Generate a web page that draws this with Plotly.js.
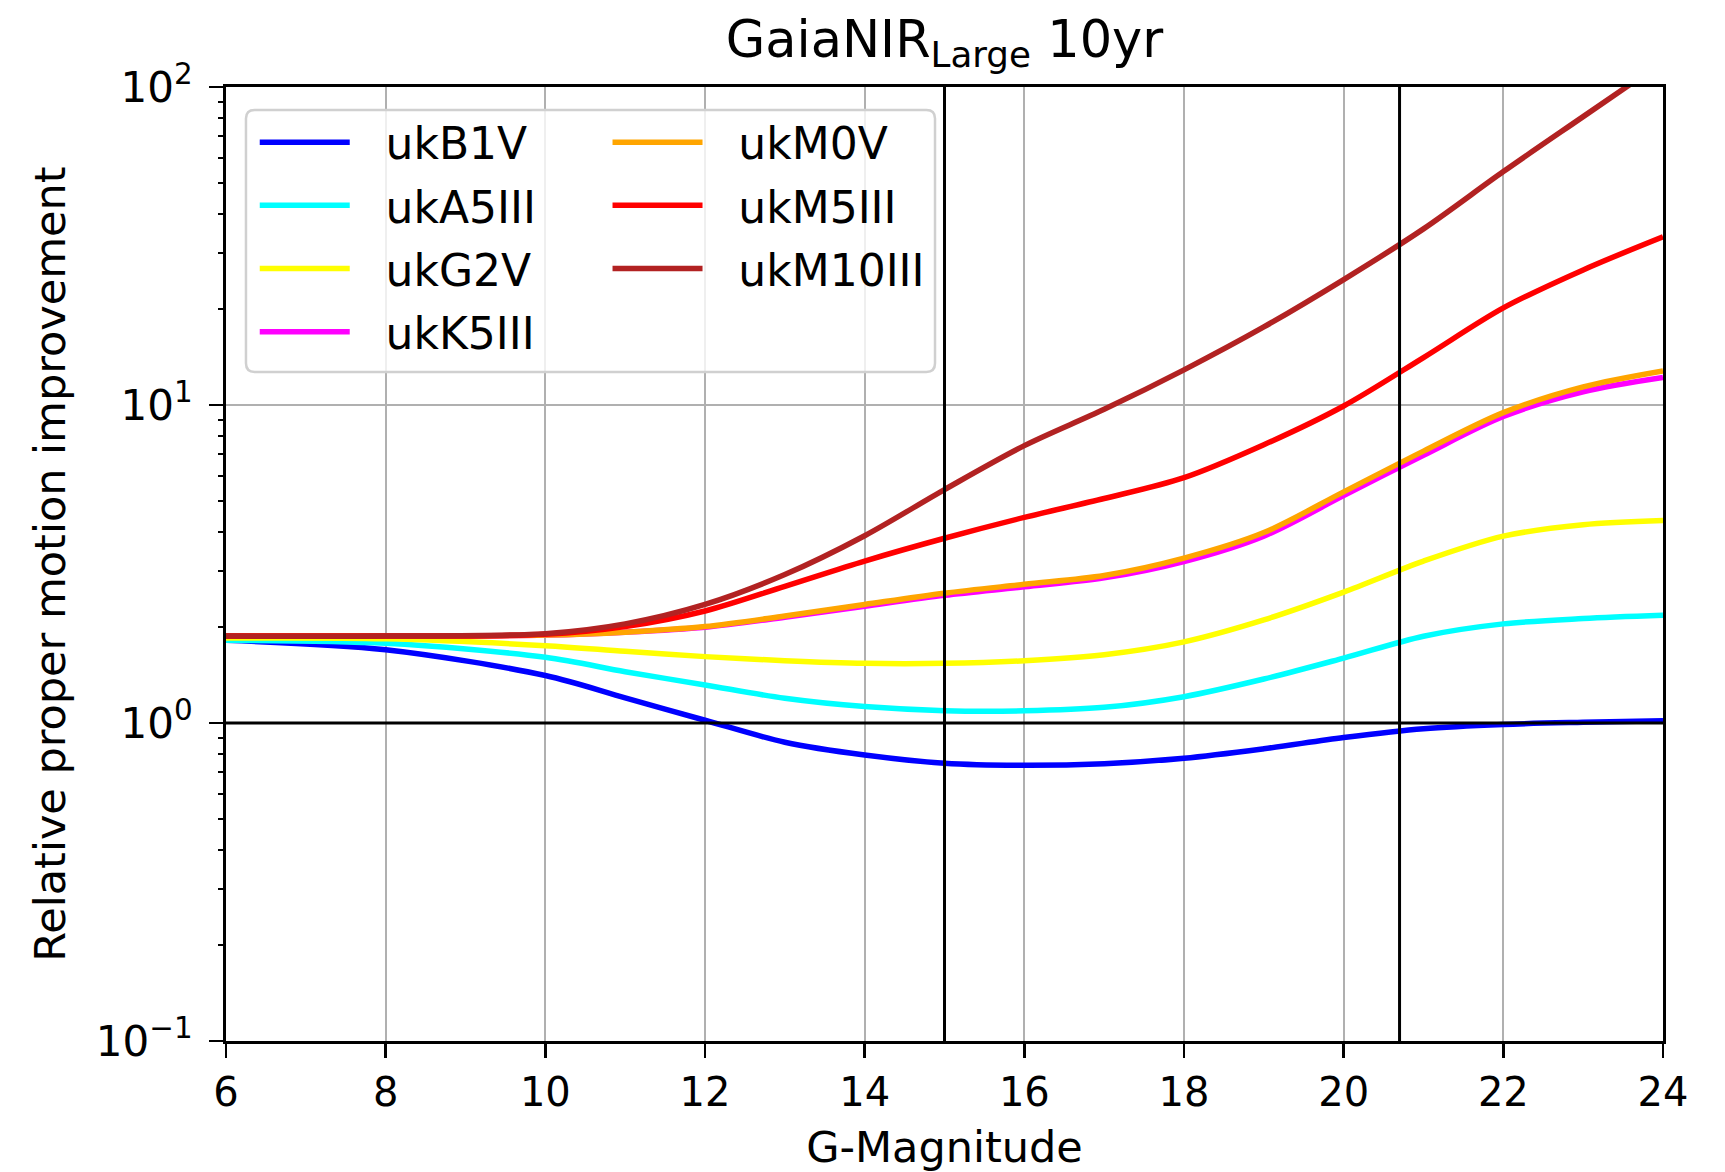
<!DOCTYPE html>
<html>
<head>
<meta charset="utf-8">
<script src="https://cdn.plot.ly/plotly-3.0.1.min.js"></script>
<style>html,body{margin:0;padding:0;background:#fff;}#chart{width:1725px;height:1172px;}</style>
</head>
<body>
<div id="chart"></div>
<script>
const mag = [6, 8, 10, 11, 12, 13, 14, 15, 16, 17, 18, 19, 20, 21, 22, 23, 24];
const ukB1V   = [1.82, 1.70, 1.41, 1.20, 1.02, 0.870, 0.793, 0.747, 0.736, 0.745, 0.775, 0.83, 0.90, 0.96, 0.99, 1.005, 1.016];
const ukA5III = [1.82, 1.78, 1.61, 1.45, 1.317, 1.196, 1.126, 1.093, 1.092, 1.12, 1.21, 1.375, 1.60, 1.875, 2.05, 2.13, 2.18];
const ukG2V   = [1.85, 1.84, 1.75, 1.68, 1.617, 1.57, 1.54, 1.54, 1.57, 1.64, 1.80, 2.11, 2.58, 3.23, 3.87, 4.20, 4.33];
const ukK5III = [1.876, 1.876, 1.89, 1.93, 2.00, 2.15, 2.33, 2.52, 2.68, 2.86, 3.22, 3.87, 5.19, 6.95, 9.20, 11.0, 12.2];
const ukM0V   = [1.876, 1.876, 1.89, 1.93, 2.01, 2.17, 2.36, 2.56, 2.73, 2.91, 3.30, 3.97, 5.33, 7.16, 9.46, 11.4, 12.8];
const ukM5III = [1.876, 1.876, 1.90, 2.01, 2.25, 2.69, 3.23, 3.81, 4.43, 5.08, 5.91, 7.5, 9.93, 14.1, 20.2, 26.6, 33.8];
const ukM10III= [1.876, 1.876, 1.91, 2.05, 2.36, 2.93, 3.88, 5.42, 7.45, 9.69, 12.9, 17.6, 24.8, 35.8, 54.2, 80.7, 120];

const names  = ['ukB1V', 'ukA5III', 'ukG2V', 'ukK5III', 'ukM0V', 'ukM5III', 'ukM10III'];
const series = [ukB1V, ukA5III, ukG2V, ukK5III, ukM0V, ukM5III, ukM10III];
const colors = ['#0000ff', '#00ffff', '#ffff00', '#ff00ff', '#ffa500', '#ff0000', '#b22222'];
const legendOf = ['legend', 'legend', 'legend', 'legend', 'legend2', 'legend2', 'legend2'];

const xTicks = [6, 8, 10, 12, 14, 16, 18, 20, 22, 24];
const yTickVals = [0.1, 1, 10, 100];
const yTickText = ['10<sup>\u22121</sup>', '10<sup>0</sup>', '10<sup>1</sup>', '10<sup>2</sup>'];
const yMinorVals = [0.2, 0.3, 0.4, 0.5, 0.6, 0.7, 0.8, 0.9, 2, 3, 4, 5, 6, 7, 8, 9, 20, 30, 40, 50, 60, 70, 80, 90];
const vLines = [15, 20.7];

const font = 'DejaVu Sans, sans-serif';
const pad = '\u2002\u2009';
const traces = series.map((s, i) => ({
  x: mag, y: s, name: pad + names[i], type: 'scatter', mode: 'lines',
  line: {color: colors[i], width: 5.5, shape: 'spline', smoothing: 0.9},
  legend: legendOf[i], legendgroup: names[i]
}));
// carrier for the minor-tick overlay axis
traces.push({x: [6], y: [1], yaxis: 'y2', mode: 'lines', showlegend: false, hoverinfo: 'skip',
  line: {color: 'rgba(0,0,0,0)', width: 0}});

const shapes = vLines.map(v => ({type: 'line', xref: 'x', yref: 'paper', x0: v, x1: v, y0: 0, y1: 1,
  line: {color: '#000', width: 3}, layer: 'above'}));
shapes.push({type: 'line', xref: 'paper', yref: 'paper', x0: 0, x1: 1, y0: 1/3, y1: 1/3,
  line: {color: '#000', width: 3}, layer: 'above'});
// legend frame
const fx0 = 0.0139, fx1 = 0.4934, fy0 = 0.7013, fy1 = 0.9759, rx = 0.006, ry = 0.009;
shapes.push({type: 'path', xref: 'paper', yref: 'paper', layer: 'above',
  path: `M ${fx0+rx},${fy0} L ${fx1-rx},${fy0} Q ${fx1},${fy0} ${fx1},${fy0+ry} L ${fx1},${fy1-ry} Q ${fx1},${fy1} ${fx1-rx},${fy1} L ${fx0+rx},${fy1} Q ${fx0},${fy1} ${fx0},${fy1-ry} L ${fx0},${fy0+ry} Q ${fx0},${fy0} ${fx0+rx},${fy0} Z`,
  fillcolor: 'rgba(255,255,255,0.8)', line: {color: '#d0d0d0', width: 2.5}});

const legendBase = {bgcolor: 'rgba(0,0,0,0)', borderwidth: 0, font: {family: font, size: 44, color: '#000'},
  yanchor: 'top', xanchor: 'left', itemwidth: 90, tracegroupgap: 3, orientation: 'v', traceorder: 'grouped'};

const layout = {
  width: 1725, height: 1172,
  margin: {l: 226, r: 62, t: 87, b: 131},
  paper_bgcolor: '#fff', plot_bgcolor: '#fff',
  font: {family: font, color: '#000'},
  title: {text: 'GaiaNIR<sub>Large</sub> 10yr', font: {family: font, size: 51, color: '#000'},
    x: 0.5, xanchor: 'center', y: 0.967, yanchor: 'middle', xref: 'paper'},
  xaxis: {range: [6, 24], tickvals: xTicks, ticktext: xTicks.map(String),
    showgrid: true, gridcolor: '#b0b0b0', gridwidth: 2,
    showline: true, linecolor: '#000', linewidth: 3, mirror: true,
    ticks: 'outside', ticklen: 14, tickwidth: 2.5, tickcolor: '#000',
    tickfont: {family: font, size: 40}, zeroline: false,
    title: {text: 'G-Magnitude', font: {family: font, size: 43}, standoff: 20}},
  yaxis: {type: 'log', range: [-1, 2], tickvals: yTickVals, ticktext: yTickText,
    showgrid: true, gridcolor: '#b0b0b0', gridwidth: 2, automargin: true,
    showline: true, linecolor: '#000', linewidth: 3, mirror: true,
    ticks: 'outside', ticklen: 14, tickwidth: 2.5, tickcolor: '#000', ticklabelstandoff: 8,
    tickfont: {family: font, size: 42}, zeroline: false,
    title: {text: 'Relative proper motion improvement', font: {family: font, size: 43}, standoff: 17}},
  yaxis2: {type: 'log', range: [-1, 2], overlaying: 'y', anchor: 'x', side: 'left',
    tickmode: 'array', tickvals: yMinorVals, showticklabels: false,
    ticks: 'outside', ticklen: 7, tickwidth: 2, tickcolor: '#000',
    showgrid: false, showline: false, zeroline: false},
  legend: Object.assign({}, legendBase, {x: 0.02, y: 0.979}),
  legend2: Object.assign({}, legendBase, {x: 0.2655, y: 0.979}),
  shapes: shapes,
  showlegend: true
};

Plotly.newPlot('chart', traces, layout, {displayModeBar: false, staticPlot: true});
</script>
</body>
</html>
